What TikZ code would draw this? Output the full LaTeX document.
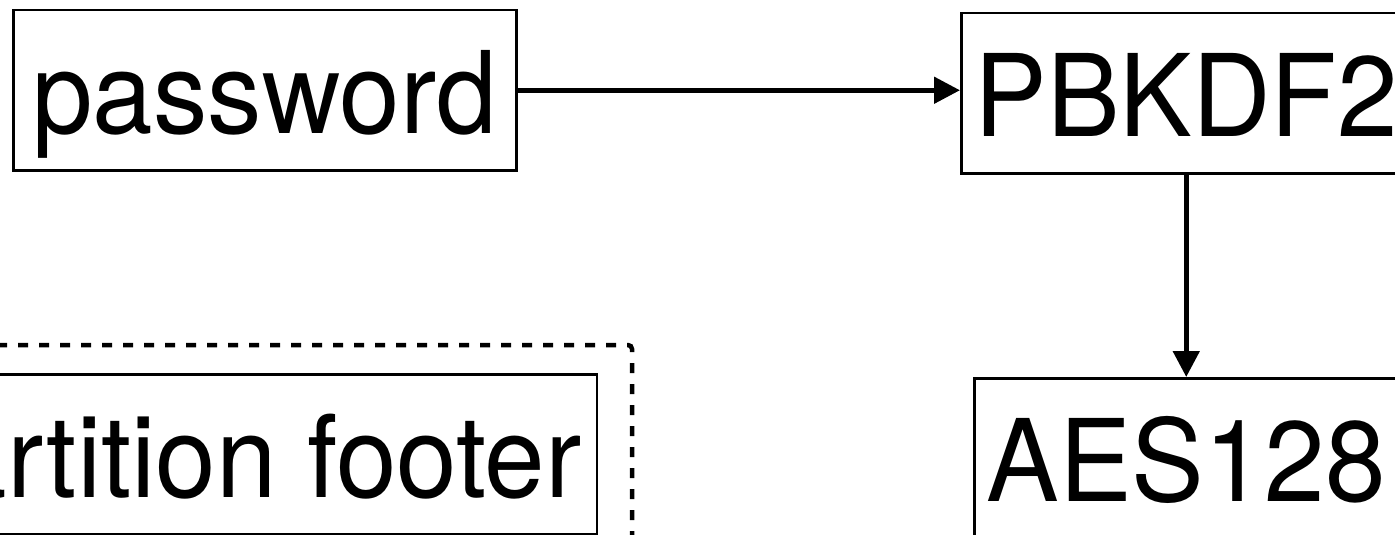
\documentclass[tikz,border=0pt]{standalone}
\usepackage{fontspec}
\usetikzlibrary{arrows.meta}
% slightly condensed grotesque for the box labels
\newfontfamily\boxfont{TeX Gyre Heros}[FakeStretch=0.955]

\begin{document}
\begin{tikzpicture}[x=1pt, y=-1pt,
  box/.style={draw, line width=2.5pt, inner xsep=0pt, inner ysep=0pt,
    text height=123.5pt, text depth=36.5pt,
    font=\boxfont\fontsize{114}{120}\selectfont},
  flow/.style={line width=5pt, -{Triangle[length=26pt, width=26pt]}},
  group/.style={draw, line width=4.5pt, dash pattern=on 10pt off 11pt,
    rounded corners=4pt}]
  \useasboundingbox (0,0) rectangle (1395,535);

  % key derivation chain
  \node[box, minimum width=503pt, anchor=north west] (pw)  at (12,9)   {password};
  \node[box, minimum width=450pt, anchor=north west] (kdf) at (960,12) {PBKDF2};
  \node[box, minimum width=424pt, anchor=north west] (aes) at (973,377) {AES128};

  % footer inside its dashed group
  \node[box, inner xsep=15pt, anchor=north east] (footer) at (598,373) {partition footer};
  \draw[group] (632,604) -- (632,345) -- (-250,345);

  % connectors
  \draw[flow] (pw.east) -- (pw.east -| kdf.west);
  \draw[flow] (kdf.south) -- (aes.north);
\end{tikzpicture}
\end{document}
